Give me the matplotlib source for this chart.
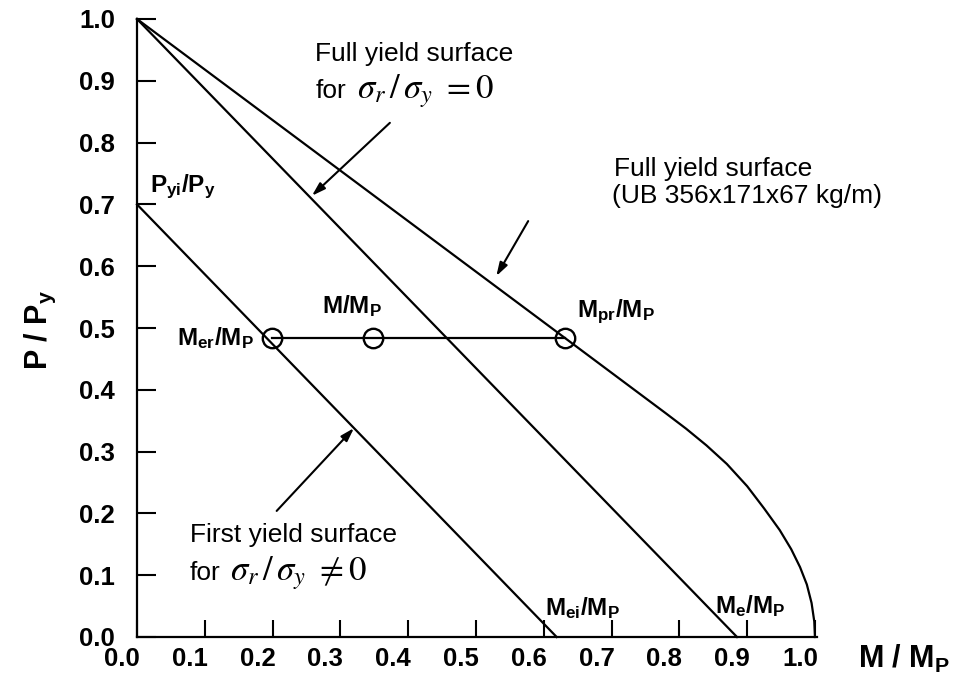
import matplotlib
matplotlib.use("Agg")
from matplotlib import pyplot as plt
from matplotlib.transforms import ScaledTranslation

plt.rcParams['font.family'] = ['Liberation Sans', 'DejaVu Sans']
plt.rcParams['mathtext.fontset'] = 'custom'
plt.rcParams['mathtext.rm'] = 'Liberation Sans'
plt.rcParams['mathtext.it'] = 'Liberation Sans:italic'
plt.rcParams['mathtext.bf'] = 'Liberation Sans:bold'

# DATA (M/Mp on x, P/Py on y)
# full yield surface of the UB 356x171x67 section
full_m = [0.0, 0.631, 0.78, 0.81, 0.84, 0.87, 0.90, 0.925, 0.948, 0.965,
          0.978, 0.988, 0.995, 0.999, 1.0]
full_p = [1.0, 0.484, 0.362, 0.337, 0.310, 0.280, 0.244, 0.208, 0.173, 0.142,
          0.113, 0.085, 0.055, 0.025, 0.0]
# full yield surface for sigma_r/sigma_y = 0
me_m = [0.0, 0.885]
me_p = [1.0, 0.0]
# first yield surface for sigma_r/sigma_y != 0
mei_m = [0.0, 0.619]
mei_p = [0.70, 0.0]
# points at the current axial load level
pts_m = [0.199, 0.348, 0.631]
pts_p = [0.484, 0.484, 0.484]

x_ticks = [0.0, 0.1, 0.2, 0.3, 0.4, 0.5, 0.6, 0.7, 0.8, 0.9, 1.0]
y_ticks = [0.0, 0.1, 0.2, 0.3, 0.4, 0.5, 0.6, 0.7, 0.8, 0.9, 1.0]

fig = plt.figure(figsize=(9.56, 6.79), dpi=100)
ax = fig.add_axes([137/956, 42/679, 680/956, 618/679])

lw = 1.6
ax.plot(full_m, full_p, color="black", lw=lw, clip_on=False)
ax.plot(me_m, me_p, color="black", lw=lw, clip_on=False)
ax.plot(mei_m, mei_p, color="black", lw=lw, clip_on=False)
ax.plot(pts_m, pts_p, color="black", lw=lw, marker="o", ms=14,
        mfc="none", mec="black", mew=1.7, clip_on=False)

ax.set_xlim(0, 1.003)
ax.set_ylim(0, 1.0)
for s in ["top", "right"]:
    ax.spines[s].set_visible(False)
for s in ["left", "bottom"]:
    ax.spines[s].set_linewidth(1.6)

ax.set_xticks(x_ticks)
ax.set_xticklabels(["%.1f" % v for v in x_ticks])
ax.set_yticks(y_ticks)
ax.set_yticklabels(["%.1f" % v for v in y_ticks])
ax.tick_params(axis="x", direction="in", length=12, width=1.5, pad=7,
               labelsize=18.5)
ax.tick_params(axis="y", direction="in", length=14, width=1.5, pad=16,
               labelsize=18.5)
for lbl in ax.get_xticklabels() + ax.get_yticklabels():
    lbl.set_fontweight("bold")
# the printed labels sit a bit left of their ticks
shift = ScaledTranslation(-15/100, 0, fig.dpi_scale_trans)
for lbl in ax.get_xticklabels():
    lbl.set_transform(lbl.get_transform() + shift)

# axis titles
fig.text(40/956, 1 - 330/679, r"$\mathbf{P\ /\ P_y}$", rotation=90,
         ha="center", va="center", fontsize=22)
ax.text(1.063, -0.050, r"$\mathbf{M\ /\ M_P}$", ha="left", va="baseline",
        fontsize=22, clip_on=False)

# point labels
bsz = 17.5
ax.text(0.059, 0.472, r"$\mathbf{M_{er}/M_P}$", fontsize=bsz, va="baseline")
ax.text(0.273, 0.524, r"$\mathbf{M/M_P}$", fontsize=bsz, va="baseline")
ax.text(0.649, 0.518, r"$\mathbf{M_{pr}/M_P}$", fontsize=bsz, va="baseline")
ax.text(0.019, 0.72, r"$\mathbf{P_{yi}/P_y}$", fontsize=bsz, va="baseline")
ax.text(0.602, 0.036, r"$\mathbf{M_{ei}/M_P}$", fontsize=bsz, va="baseline")
ax.text(0.853, 0.039, r"$\mathbf{M_e/M_P}$", fontsize=bsz, va="baseline")

# callouts
nsz = 19
msz = 25
ax.text(0.263, 0.932, "Full yield surface", fontsize=nsz, va="baseline")
ax.text(0.263, 0.872, "for", fontsize=nsz, va="baseline")
ax.text(0.324, 0.872, r"$\sigma_r\,/\,\sigma_y\ =0$", fontsize=msz,
        va="baseline", math_fontfamily="stix")
ax.text(0.704, 0.746, "Full yield surface", fontsize=nsz, va="baseline")
ax.text(0.700, 0.702, "(UB 356x171x67 kg/m)", fontsize=nsz, va="baseline")
ax.text(0.078, 0.154, "First yield surface", fontsize=nsz, va="baseline")
ax.text(0.078, 0.092, "for", fontsize=nsz, va="baseline")
ax.text(0.137, 0.092, r"$\sigma_r\,/\,\sigma_y\ \neq 0$", fontsize=msz,
        va="baseline", math_fontfamily="stix")

arrow = dict(arrowstyle="-|>,head_length=0.8,head_width=0.25", color="black",
             lw=1.5, shrinkA=0, shrinkB=0)
ax.annotate("", xy=(0.258, 0.714), xytext=(0.373, 0.832), arrowprops=arrow)
ax.annotate("", xy=(0.530, 0.584), xytext=(0.577, 0.673), arrowprops=arrow)
ax.annotate("", xy=(0.320, 0.338), xytext=(0.206, 0.204), arrowprops=arrow)

fig.savefig("out.png", dpi=100)
